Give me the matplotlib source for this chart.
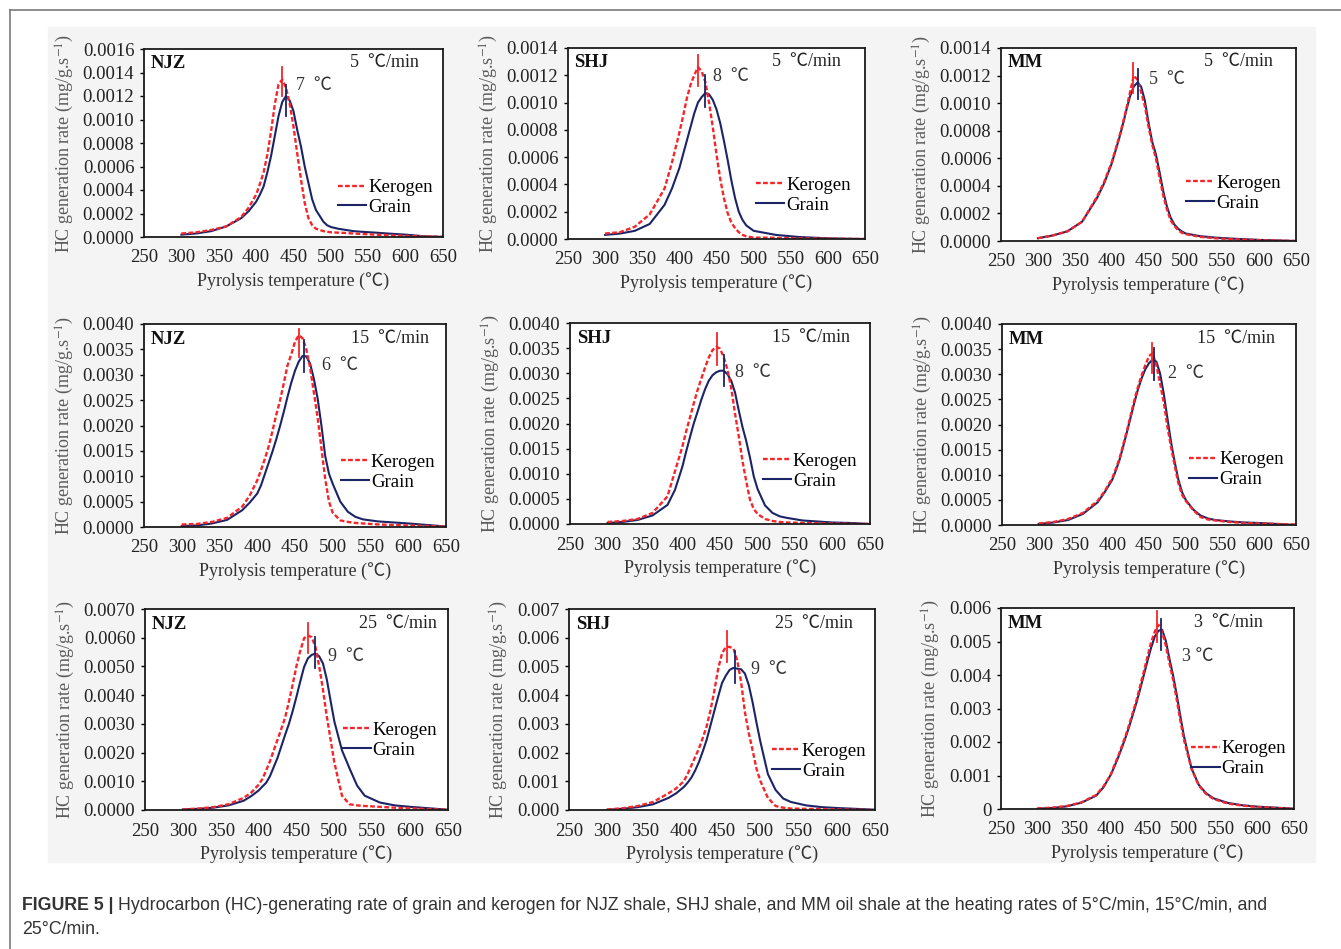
import numpy as np
import matplotlib
matplotlib.use("Agg")
import matplotlib.pyplot as plt
from matplotlib.lines import Line2D
from matplotlib.patches import Rectangle

plt.rcParams["font.family"] = ["Liberation Serif", "Noto Sans CJK SC", "DejaVu Sans"]
plt.rcParams["mathtext.fontset"] = "stix"

W, H = 1341, 949

# Pyrolysis temperature grid (℃)
TEMP = [300, 320, 340, 360, 380, 390,
        400, 405, 410, 415, 420, 425, 430, 435, 440, 445, 450, 455, 460, 465,
        470, 475, 480, 485, 490, 495, 500,
        510, 520, 530, 540, 560, 580, 600, 625, 650]

# HC generation rate, in units of 1e-4 mg/g.s-1
UNIT = 1e-4

NJZ5_KER = [0.3, 0.4, 0.6, 0.9, 1.7, 2.5,
            3.6, 4.5, 5.5, 7.0, 9.0, 11.3, 13.0, 13.4, 12.7, 11.3, 9.4, 7.1, 4.9, 2.9,
            1.6, 1.0, 0.7, 0.6, 0.5, 0.45, 0.4,
            0.37, 0.34, 0.3, 0.26, 0.2, 0.15, 0.1, 0.05, 0.02]
NJZ5_GRA = [0.2, 0.3, 0.5, 0.9, 1.6, 2.2,
            3.0, 3.6, 4.3, 5.5, 6.9, 8.6, 10.3, 11.5, 12.0, 11.6, 10.7, 9.1, 7.7, 6.0,
            4.6, 3.2, 2.3, 1.8, 1.3, 1.0, 0.85,
            0.7, 0.6, 0.5, 0.45, 0.37, 0.28, 0.2, 0.06, 0.01]

SHJ5_KER = [0.4, 0.5, 0.9, 1.8, 3.7, 5.6,
            7.8, 9.0, 10.3, 11.3, 12.0, 12.6, 12.3, 11.5, 10.0, 8.2, 6.2, 4.4, 3.0, 1.9,
            1.2, 0.8, 0.5, 0.3, 0.2, 0.15, 0.1,
            0.1, 0.1, 0.08, 0.07, 0.05, 0.04, 0.03, 0.01, 0.0]
SHJ5_GRA = [0.3, 0.4, 0.6, 1.1, 2.5, 3.7,
            5.2, 6.2, 7.2, 8.2, 9.2, 10.0, 10.4, 10.7, 10.6, 10.2, 9.5, 8.5, 7.2, 5.8,
            4.3, 3.0, 2.0, 1.4, 1.0, 0.8, 0.6,
            0.5, 0.4, 0.3, 0.25, 0.15, 0.1, 0.05, 0.02, 0.0]

MM5_KER = [0.2, 0.4, 0.7, 1.4, 3.2, 4.3,
           5.7, 6.6, 7.5, 8.5, 9.6, 10.8, 12.0, 11.7, 10.8, 9.8, 8.3, 7.0, 6.0, 4.6,
           3.3, 2.3, 1.5, 1.1, 0.8, 0.6, 0.5,
           0.4, 0.3, 0.25, 0.2, 0.14, 0.1, 0.06, 0.03, 0.0]
MM5_GRA = [0.2, 0.4, 0.7, 1.4, 3.1, 4.2,
           5.6, 6.5, 7.4, 8.4, 9.5, 10.5, 11.2, 11.5, 11.2, 10.2, 8.6, 7.2, 6.3, 5.0,
           3.6, 2.5, 1.7, 1.2, 0.9, 0.7, 0.55,
           0.45, 0.35, 0.3, 0.25, 0.18, 0.13, 0.08, 0.04, 0.0]

NJZ15_KER = [0.5, 0.6, 1.0, 1.8, 4.0, 6.2,
             9.2, 11.2, 13.4, 15.8, 18.8, 22.0, 24.8, 28.2, 31.8, 34.0, 36.5, 37.8, 37.2, 35.0,
             31.4, 26.5, 21.5, 15.5, 9.5, 5.0, 2.8,
             1.3, 1.0, 0.8, 0.7, 0.5, 0.4, 0.3, 0.2, 0.1]
NJZ15_GRA = [0.2, 0.3, 0.7, 1.4, 3.3, 4.8,
             6.6, 8.2, 10.4, 12.6, 14.8, 17.2, 19.8, 22.6, 25.6, 28.4, 30.8, 32.6, 33.7, 33.6,
             32.2, 29.2, 25.3, 20.0, 14.0, 10.5, 8.5,
             5.0, 3.0, 2.0, 1.5, 1.1, 0.9, 0.7, 0.4, 0.1]

SHJ15_KER = [0.4, 0.6, 1.0, 2.2, 5.5, 10.5,
             15.5, 18.5, 21.2, 24.0, 26.6, 28.9, 31.1, 33.1, 34.6, 35.3, 34.9, 33.2, 30.7, 27.0,
             22.0, 17.5, 12.5, 8.5, 4.8, 3.0, 2.0,
             1.0, 0.6, 0.4, 0.3, 0.2, 0.15, 0.1, 0.05, 0.0]
SHJ15_GRA = [0.2, 0.4, 0.8, 1.7, 3.8, 6.8,
             11.5, 14.5, 17.3, 20.0, 22.3, 24.7, 26.8, 28.5, 29.6, 30.2, 30.5, 30.5, 29.8, 28.5,
             26.2, 22.6, 19.3, 16.5, 13.2, 9.5, 7.0,
             3.7, 2.2, 1.5, 1.2, 0.7, 0.5, 0.3, 0.2, 0.0]

MM15_KER = [0.3, 0.6, 1.2, 2.4, 4.8, 6.8,
            9.3, 11.2, 13.3, 16.0, 18.8, 21.8, 24.8, 27.5, 29.8, 31.8, 33.6, 34.2, 31.8, 28.2,
            24.5, 19.6, 15.5, 11.8, 8.3, 6.0, 4.8,
            3.0, 1.6, 1.1, 0.9, 0.6, 0.4, 0.3, 0.2, 0.1]
MM15_GRA = [0.2, 0.5, 1.0, 2.2, 4.5, 6.6,
            9.0, 10.9, 13.0, 15.7, 18.5, 21.4, 24.3, 27.0, 29.2, 31.0, 32.2, 32.9, 32.5, 30.2,
            26.2, 21.3, 16.5, 12.5, 9.0, 6.5, 5.0,
            3.1, 1.9, 1.3, 1.0, 0.7, 0.5, 0.4, 0.2, 0.0]

NJZ25_KER = [0.2, 0.5, 1.0, 2.0, 4.2, 6.0,
             8.8, 10.8, 13.8, 17.0, 20.8, 24.5, 28.3, 32.2, 37.8, 43.8, 50.2, 55.5, 59.8, 60.8,
             60.2, 56.8, 50.0, 41.8, 32.6, 24.5, 16.5,
             5.0, 2.0, 1.6, 1.4, 1.1, 0.8, 0.6, 0.3, 0.1]
NJZ25_GRA = [0.2, 0.4, 0.8, 1.6, 3.2, 4.8,
             6.8, 8.2, 9.5, 11.8, 15.0, 18.2, 22.2, 26.2, 30.0, 34.5, 39.5, 44.8, 49.8, 52.8,
             54.0, 54.5, 53.5, 51.0, 45.5, 38.0, 30.8,
             20.8, 14.5, 8.5, 5.0, 2.6, 1.6, 1.1, 0.6, 0.1]

SHJ25_KER = [0.2, 0.6, 1.4, 2.8, 5.8, 7.5,
             10.0, 12.5, 15.5, 18.5, 21.5, 25.2, 29.2, 34.8, 41.5, 49.2, 54.5, 56.8, 56.8, 56.2,
             52.0, 44.5, 34.0, 26.8, 20.8, 14.5, 10.2,
             4.2, 1.4, 0.8, 0.5, 0.4, 0.3, 0.2, 0.1, 0.0]
SHJ25_GRA = [0.1, 0.4, 1.0, 2.0, 4.2, 5.8,
             8.0, 9.5, 11.3, 13.8, 16.8, 20.5, 24.5, 29.5, 34.5, 39.5, 44.2, 46.8, 48.8, 49.5,
             49.2, 49.0, 47.5, 43.5, 37.5, 30.5, 24.0,
             12.5, 7.0, 4.0, 2.8, 1.6, 1.0, 0.7, 0.4, 0.1]

MM3_KER = [0.2, 0.4, 0.9, 2.0, 4.2, 6.8,
           10.3, 13.2, 15.8, 18.8, 21.8, 25.2, 28.8, 32.5, 36.8, 41.0, 45.5, 49.8, 53.0, 55.0,
           52.8, 48.8, 43.5, 38.5, 32.5, 26.2, 20.5,
           12.0, 7.0, 4.5, 3.0, 1.6, 1.0, 0.6, 0.3, 0.1]
MM3_GRA = [0.1, 0.3, 0.8, 1.9, 4.0, 6.5,
           10.3, 12.8, 15.4, 18.3, 21.3, 24.6, 28.2, 31.8, 35.8, 40.0, 44.2, 48.2, 51.5, 53.2,
           53.5, 50.2, 44.8, 39.8, 34.0, 27.5, 21.5,
           12.2, 7.2, 4.7, 3.2, 1.8, 1.1, 0.7, 0.4, 0.1]

# Peak markers: (temperature, low, high) in 1e-4 units
KER_PEAKS = [(434.6, 12.0, 14.5), (425.3, 11.2, 13.5), (429.4, 10.7, 12.9),
             (455.7, 33.5, 39.0), (446.0, 31.7, 38.0), (454.0, 30.2, 36.3),
             (465.2, 54.7, 65.1), (456.7, 51.7, 62.2), (462.5, 50.0, 59.0)]
GRA_PEAKS = [(440.0, 10.3, 12.9), (434.7, 9.7, 12.0), (435.3, 10.3, 12.5),
             (462.3, 30.6, 36.8), (455.3, 27.5, 33.7), (456.8, 28.9, 35.2),
             (474.0, 49.6, 60.3), (467.2, 44.4, 55.2), (468.0, 47.6, 56.7)]
DELTA_LABELS = ["7  ℃", "8  ℃", "5  ℃", "6  ℃", "8  ℃", "2  ℃", "9  ℃", "9  ℃", "3 ℃"]
DELTA_POS = [(454, 12.9), (445.5, 11.9), (451, 11.7), (486, 31.9), (470, 30.2),
             (476, 30.1), (491.5, 53.5), (487.5, 49.1), (496.5, 45.4)]

SAMPLES = ["NJZ", "SHJ", "MM", "NJZ", "SHJ", "MM", "NJZ", "SHJ", "MM"]
RATES = ["5  ℃/min", "5  ℃/min", "5  ℃/min", "15  ℃/min", "15  ℃/min", "15  ℃/min",
         "25  ℃/min", "25  ℃/min", "3  ℃/min"]
KEROGEN = [NJZ5_KER, SHJ5_KER, MM5_KER, NJZ15_KER, SHJ15_KER, MM15_KER,
           NJZ25_KER, SHJ25_KER, MM3_KER]
GRAIN = [NJZ5_GRA, SHJ5_GRA, MM5_GRA, NJZ15_GRA, SHJ15_GRA, MM15_GRA,
         NJZ25_GRA, SHJ25_GRA, MM3_GRA]

# y axis: (max, step, decimals)
YAXES = [(0.0016, 0.0002, 4), (0.0014, 0.0002, 4), (0.0014, 0.0002, 4),
         (0.0040, 0.0005, 4), (0.0040, 0.0005, 4), (0.0040, 0.0005, 4),
         (0.0070, 0.0010, 4), (0.007, 0.001, 3), (0.006, 0.001, 3)]

# layout: axes boxes in pixels (left, top, right, bottom)
BOXES = [(144, 49, 443, 237), (568, 48, 865, 239), (1001, 48, 1296, 241),
         (144, 324, 446, 527), (570, 323, 870, 524), (1002, 324, 1296, 525),
         (145, 609, 448, 810), (569, 609, 875, 810), (1001, 608, 1294, 809)]
RATE_X = [0.92, 0.92, 0.92, 0.944, 0.933, 0.93, 0.964, 0.927, 0.893]
LEGEND_POS = [(0.65, 0.21), (0.633, 0.228), (0.627, 0.247),
              (0.652, 0.27), (0.643, 0.263), (0.636, 0.275),
              (0.652, 0.347), (0.663, 0.243), (0.65, 0.25)]

RED = "#f5262a"
NAVY = "#1b2466"
FS = 13.5

fig = plt.figure(figsize=(W / 100, H / 100), dpi=100)

# light grey backdrop of the figure image and page frame
fig.add_artist(Rectangle((48 / W, 1 - 862 / H), (1315 - 48) / W, (862 - 27) / H,
                         transform=fig.transFigure, color="#f4f4f4", zorder=0))
fig.add_artist(Line2D([10 / W, 1], [1 - 10 / H, 1 - 10 / H], color="#7a7a7a", lw=1.2))
fig.add_artist(Line2D([10 / W, 10 / W], [0, 1 - 10 / H], color="#7a7a7a", lw=1.2))

temp = np.array(TEMP)
for i in range(9):
    l, t, r, b = BOXES[i]
    ax = fig.add_axes([l / W, 1 - b / H, (r - l) / W, (b - t) / H])
    ax.set_facecolor("white")

    gra = np.array(GRAIN[i]) * UNIT
    ker = np.array(KEROGEN[i]) * UNIT
    g_line, = ax.plot(temp, gra, color=NAVY, lw=1.5)
    k_line, = ax.plot(temp, ker, color=RED, lw=1.7, dashes=(2.0, 1.0))

    kt, klo, khi = KER_PEAKS[i]
    gt, glo, ghi = GRA_PEAKS[i]
    ax.plot([kt, kt], [klo * UNIT, khi * UNIT], color=RED, lw=1.3)
    ax.plot([gt, gt], [glo * UNIT, ghi * UNIT], color=NAVY, lw=1.3)
    dx, dy = DELTA_POS[i]
    ax.text(dx, dy * UNIT, DELTA_LABELS[i], fontsize=FS - 0.5, color="#333333",
            ha="left", va="center")

    ymax, step, dec = YAXES[i]
    ax.set_xlim(250, 650)
    ax.set_ylim(0, ymax)
    ax.set_xticks(range(250, 651, 50))
    yt = np.arange(0, ymax + step / 2, step)
    ax.set_yticks(yt)
    if i == 8:
        ax.set_yticklabels(["0"] + [f"{v:.{dec}f}" for v in yt[1:]])
    else:
        ax.set_yticklabels([f"{v:.{dec}f}" for v in yt])
    ax.tick_params(axis="y", direction="out", length=3, width=1, pad=4,
                   labelsize=FS, labelcolor="#222222")
    ax.tick_params(axis="x", length=0, pad=9, labelsize=FS, labelcolor="#222222")
    for s in ax.spines.values():
        s.set_linewidth(1.3)
        s.set_color("#1a1a1a")

    ax.set_xlabel("Pyrolysis temperature (℃)", fontsize=FS - 0.5, color="#333333",
                  labelpad=4)
    ax.set_ylabel("HC generation rate (mg/g.s$^{-1}$)", fontsize=FS - 0.5,
                  color="#5a5a5a", labelpad=5)

    ax.text(0.022, 0.925, SAMPLES[i], transform=ax.transAxes, fontsize=FS,
            fontweight="bold", ha="left", va="center", color="#111111")
    ax.text(RATE_X[i], 0.93, RATES[i], transform=ax.transAxes, fontsize=FS - 0.5,
            ha="right", va="center", color="#222222")

    lx, ly = LEGEND_POS[i]
    ax.legend([k_line, g_line], ["Kerogen", "Grain"], loc="center left",
              bbox_to_anchor=(lx, ly), frameon=False, fontsize=FS,
              handlelength=1.5, handletextpad=0.1, labelspacing=0.15,
              borderpad=0, borderaxespad=0)

# caption
renderer = fig.canvas.get_renderer()
cap_kw = dict(fontsize=12.8, family="Liberation Sans", color="#333333", va="center")
bold = fig.text(22 / W, 1 - 905 / H, "FIGURE 5 |", fontweight="bold", **cap_kw)
bb = bold.get_window_extent(renderer)
fig.text(bb.x1 / W + 4 / W, 1 - 905 / H,
         "Hydrocarbon (HC)-generating rate of grain and kerogen for NJZ shale, SHJ shale, "
         "and MM oil shale at the heating rates of 5°C/min, 15°C/min, and", **cap_kw)
fig.text(22 / W, 1 - 930 / H, "25°C/min.", **cap_kw)

fig.savefig("out.png", dpi=100)
plt.close(fig)
